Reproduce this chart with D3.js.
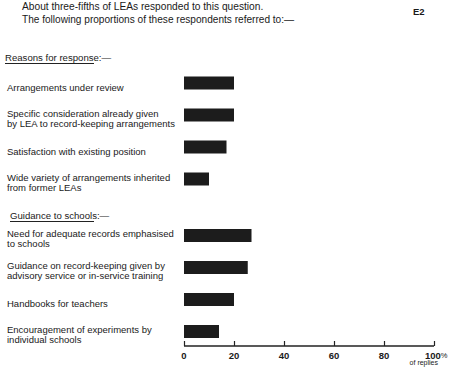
<!DOCTYPE html>
<html><head><meta charset="utf-8">
<script src="https://cdn.jsdelivr.net/npm/d3@7"></script>
<style>
html,body{margin:0;padding:0;background:#fff;}
svg{display:block;}
text{font-family:"Liberation Sans",Arial,sans-serif;fill:#1a1a1a;}
</style></head>
<body>
<script>
// ---- data ----
const titleLines = ["About three-fifths of LEAs responded to this question.",
                    "The following proportions of these respondents referred to:\u2014"];
const pageCode = "E2";
const groupTitles = ["Reasons for response:\u2014", "Guidance to schools:\u2014"];
const reasonLabels = ["Arrangements under review",
  "Specific consideration already given\nby LEA to record-keeping arrangements",
  "Satisfaction with existing position",
  "Wide variety of arrangements inherited\nfrom former LEAs"];
const reasonValues = [20, 20, 17, 10];
const guidanceLabels = ["Need for adequate records emphasised\nto schools",
  "Guidance on record-keeping given by\nadvisory service or in-service training",
  "Handbooks for teachers",
  "Encouragement of experiments by\nindividual schools"];
const guidanceValues = [27, 25.5, 20, 14];
const tickValues = [0, 20, 40, 60, 80, 100];
const tickLabels = ["0", "20", "40", "60", "80", "100"];
const lastTickUnit = "%";
const axisNote = "of replies";

// ---- drawing ----
const W = 450, H = 368;
const svg = d3.select("body").append("svg").attr("width", W).attr("height", H);

svg.append("text").attr("x", 22).attr("y", 9.5).attr("font-size", 10.2).text(titleLines[0]);
svg.append("text").attr("x", 22).attr("y", 22.5).attr("font-size", 10.1).text(titleLines[1]);
svg.append("text").attr("x", 413).attr("y", 14.5).attr("font-size", 9.5).attr("font-weight", "bold").text(pageCode);

const x = d3.scaleLinear().domain([0, 100]).range([184, 434]);
const barH = 13;

const groups = [
  {title: groupTitles[0], labels: reasonLabels, values: reasonValues, range: [83, 179], head: [5, 60.5], ul: [5, 94, 63.5]},
  {title: groupTitles[1], labels: guidanceLabels, values: guidanceValues, range: [235.5, 331.5], head: [10, 218.5], ul: [10, 94, 221.5]}
];

groups.forEach(g => {
  svg.append("text").attr("x", g.head[0]).attr("y", g.head[1]).attr("font-size", 9.6).text(g.title);
  svg.append("line").attr("x1", g.ul[0]).attr("x2", g.ul[1]).attr("y1", g.ul[2]).attr("y2", g.ul[2])
     .attr("stroke", "#222").attr("stroke-width", 1);
  const y = d3.scalePoint().domain(g.labels).range(g.range);
  svg.selectAll(null).data(g.labels.map((l, i) => ({label: l, value: g.values[i]})))
    .enter().append("rect")
    .attr("x", x(0)).attr("y", d => y(d.label) - barH / 2)
    .attr("width", d => x(d.value) - x(0)).attr("height", barH)
    .attr("fill", "#1c1c1c");
  g.labels.forEach(l => {
    const lines = l.split("\n");
    const t = svg.append("text").attr("font-size", 9.5);
    const y0 = lines.length === 1 ? y(l) + 7.5 : y(l) + 1.5;
    lines.forEach((ln, i) => t.append("tspan").attr("x", 7).attr("y", y0 + i * 10.3).text(ln));
  });
});

// axis
const axisY = 346;
const axis = d3.axisTop(x).tickValues(tickValues).tickSize(5).tickFormat("");
const ag = svg.append("g").attr("transform", `translate(0,${axisY})`).call(axis);
ag.select(".domain").attr("d", `M${x(0)},0H${x(100)}`).attr("stroke", "#222").attr("stroke-width", 1.4);
ag.selectAll(".tick line").attr("stroke", "#222").attr("stroke-width", 1.2);
const tl = svg.selectAll(null).data(tickValues).enter().append("text")
  .attr("x", (d, i) => i === tickValues.length - 1 ? x(d) - 9 : x(d))
  .attr("y", 358.5).attr("font-size", 9.5).attr("font-weight", "bold")
  .attr("text-anchor", (d, i) => i === tickValues.length - 1 ? "start" : "middle")
  .text((d, i) => tickLabels[i]);
tl.filter((d, i) => i === tickValues.length - 1).append("tspan").attr("font-size", 7.5).attr("font-weight", "normal").attr("dy", -1).text(lastTickUnit);
svg.append("text").attr("x", 438).attr("y", 365).attr("font-size", 7).attr("text-anchor", "end").text(axisNote);
</script>
</body></html>
